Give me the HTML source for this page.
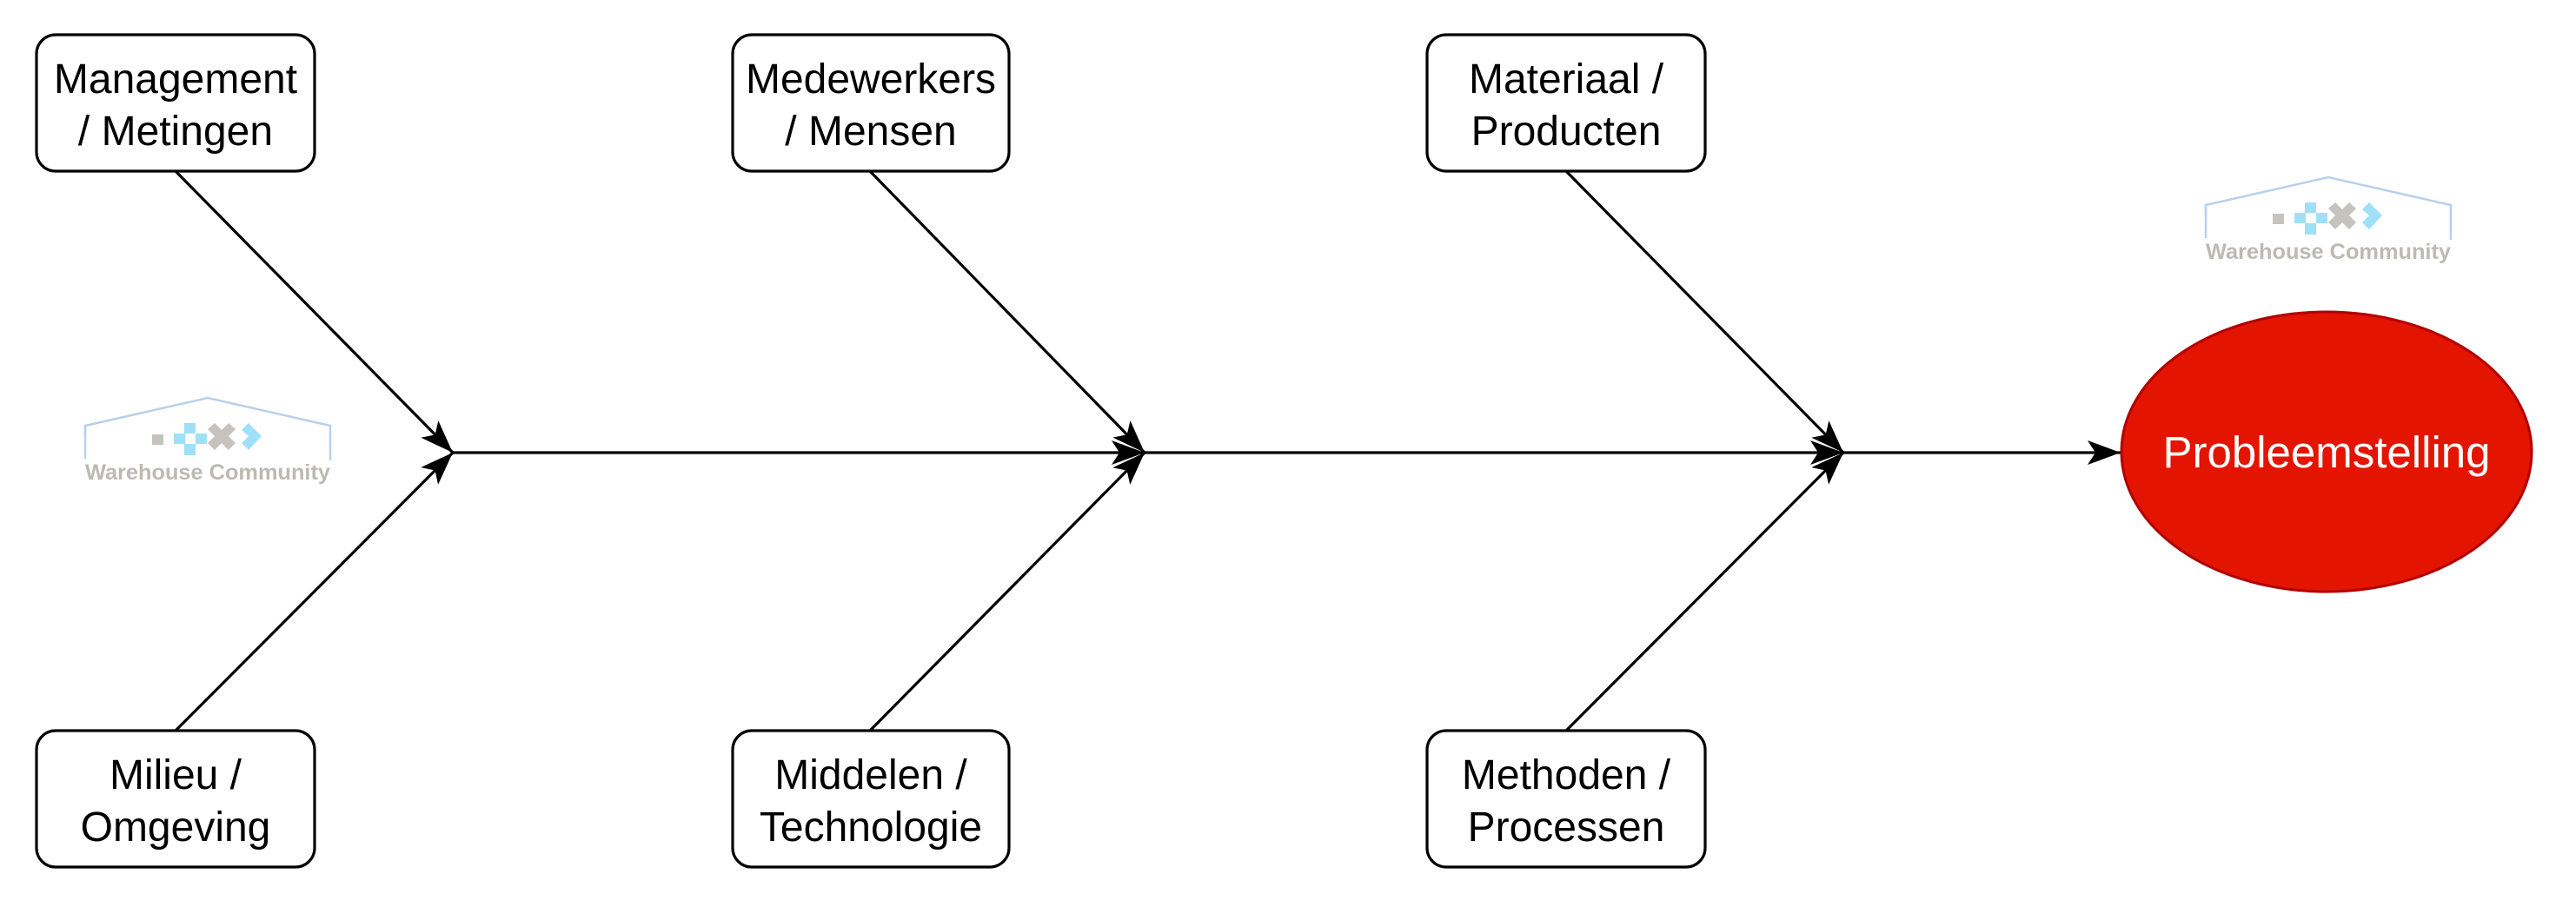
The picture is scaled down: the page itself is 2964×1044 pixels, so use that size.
<!DOCTYPE html>
<html><head><meta charset="utf-8"><style>
html,body{margin:0;padding:0;background:#fff;}
svg{display:block;}
</style></head><body>
<svg width="2964" height="1044" viewBox="0 0 2964 1044" xmlns="http://www.w3.org/2000/svg">
<defs>
<marker id="a" markerUnits="userSpaceOnUse" markerWidth="40" markerHeight="40" viewBox="-38 -20 40 40" refX="0" refY="0" orient="auto">
<path d="M0,0 L-38,-14 L-29,0 L-38,14 Z" fill="#000"/>
</marker>
<g id="logo">
<polyline points="0,44 0,32 141,0 282,32 282,72" fill="none" stroke="#b8d0ec" stroke-width="2.5"/>
<line x1="0" y1="32" x2="0" y2="70" stroke="#b8d0ec" stroke-width="2.5"/>
<rect x="77" y="42" width="13" height="12" fill="#c6c2bd"/>
<g fill="#9fe0f8">
<rect x="114" y="29" width="13" height="12"/>
<rect x="102" y="41" width="13" height="12"/>
<rect x="127" y="41" width="13" height="12"/>
<rect x="114" y="53" width="13" height="13"/>
</g>
<path d="M141,36 L149,29 L157,37 L165,29 L173,36 L165,44 L173,52 L165,60 L157,52 L149,60 L141,52 L149,44 Z" fill="#c6c2bd"/>
<path d="M180,37 L188,29 L203,44 L188,60 L180,52 L188,44 Z" fill="#9fe0f8"/>
<text x="141" y="94" font-family="Liberation Sans, sans-serif" font-weight="bold" font-size="25" fill="#bdb9b3" text-anchor="middle" textLength="282" lengthAdjust="spacingAndGlyphs">Warehouse Community</text>
</g>
</defs>
<use href="#logo" x="98" y="458"/>
<use href="#logo" x="2538" y="204"/>

<g stroke="#000" stroke-width="3.2" fill="none">
<line x1="521" y1="521" x2="1317" y2="521" marker-end="url(#a)"/>
<line x1="1317" y1="521" x2="2121" y2="521" marker-end="url(#a)"/>
<line x1="2121" y1="521" x2="2440" y2="521" marker-end="url(#a)"/>
<line x1="202" y1="197" x2="521" y2="521" marker-end="url(#a)"/>
<line x1="202" y1="841" x2="521" y2="521" marker-end="url(#a)"/>
<line x1="1001" y1="197" x2="1317" y2="521" marker-end="url(#a)"/>
<line x1="1001" y1="841" x2="1317" y2="521" marker-end="url(#a)"/>
<line x1="1802" y1="197" x2="2121" y2="521" marker-end="url(#a)"/>
<line x1="1802" y1="841" x2="2121" y2="521" marker-end="url(#a)"/>
</g>

<g fill="#fff" stroke="#000" stroke-width="3.2">
<rect x="42" y="40" width="320" height="157" rx="22"/>
<rect x="843" y="40" width="318" height="157" rx="22"/>
<rect x="1642" y="40" width="320" height="157" rx="22"/>
<rect x="42" y="841" width="320" height="157" rx="22"/>
<rect x="843" y="841" width="318" height="157" rx="22"/>
<rect x="1642" y="841" width="320" height="157" rx="22"/>
</g>

<g font-family="Liberation Sans, sans-serif" font-size="48" fill="#000" text-anchor="middle">
<text x="202" y="107">Management</text><text x="202" y="167">/ Metingen</text>
<text x="1002" y="107">Medewerkers</text><text x="1002" y="167">/ Mensen</text>
<text x="1802" y="107">Materiaal /</text><text x="1802" y="167">Producten</text>
<text x="202" y="908">Milieu /</text><text x="202" y="968">Omgeving</text>
<text x="1002" y="908">Middelen /</text><text x="1002" y="968">Technologie</text>
<text x="1802" y="908">Methoden /</text><text x="1802" y="968">Processen</text>
</g>

<ellipse cx="2677" cy="520" rx="236" ry="161" fill="#e31500" stroke="#b20000" stroke-width="3"/>
<text x="2677" y="538" font-family="Liberation Sans, sans-serif" font-size="51" fill="#fff" text-anchor="middle">Probleemstelling</text>
</svg>
</body></html>
